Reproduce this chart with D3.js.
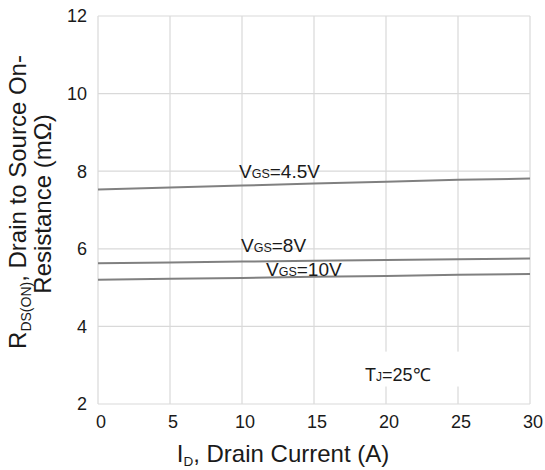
<!DOCTYPE html>
<html>
<head>
<meta charset="utf-8">
<script src="https://cdn.jsdelivr.net/npm/d3@7"></script>
<style>
  body { margin: 0; background: #fff; }
  svg text { font-family: "Liberation Sans", Arial, sans-serif; fill: #1a1a1a; }
</style>
</head>
<body>
<svg id="chart" width="545" height="470"></svg>
<script>
// drain current (A)
const current = [0, 5, 10, 15, 20, 25, 30];
// on-resistance (mOhm) for each gate voltage
const vgs45 = [7.53, 7.58, 7.63, 7.68, 7.73, 7.78, 7.81];
const vgs8 = [5.63, 5.65, 5.67, 5.69, 5.71, 5.73, 5.75];
const vgs10 = [5.2, 5.23, 5.25, 5.28, 5.3, 5.33, 5.35];
const xTicks = [0, 5, 10, 15, 20, 25, 30];
const yTicks = [2, 4, 6, 8, 10, 12];

const svg = d3.select("#chart");
const margin = { left: 98, right: 15, top: 16, bottom: 66 };
const W = 545, H = 470;

const x = d3.scaleLinear().domain([0, 30]).range([margin.left, W - margin.right]);
const y = d3.scaleLinear().domain([2, 12]).range([H - margin.bottom, margin.top]);

// grid
const grid = svg.append("g").attr("stroke", "#d9d9d9").attr("stroke-width", 1.2);
grid.selectAll(".gx").data(xTicks).join("line")
  .attr("x1", d => x(d)).attr("x2", d => x(d))
  .attr("y1", y(2)).attr("y2", y(12));
grid.selectAll(".gy").data(yTicks).join("line")
  .attr("y1", d => y(d)).attr("y2", d => y(d))
  .attr("x1", x(0)).attr("x2", x(30));

// white box behind the temperature note
svg.append("rect")
  .attr("x", x(17.3)).attr("y", y(3.35))
  .attr("width", x(26.2) - x(17.3)).attr("height", y(2.45) - y(3.35))
  .attr("fill", "#fff");

// tick labels
svg.append("g").selectAll("text").data(yTicks).join("text")
  .attr("x", 87).attr("y", d => y(d)).attr("dy", "0.35em")
  .attr("text-anchor", "end").attr("font-size", 18).text(d => d);
svg.append("g").selectAll("text").data(xTicks).join("text")
  .attr("x", d => x(d) + 3).attr("y", y(2) + 24)
  .attr("text-anchor", "middle").attr("font-size", 18).text(d => d);

// curves
const line = d3.line().x((d, i) => x(current[i])).y(d => y(d));
[vgs45, vgs8, vgs10].forEach(s => {
  svg.append("path").datum(s).attr("d", line)
    .attr("fill", "none").attr("stroke", "#808080").attr("stroke-width", 2);
});

// curve labels
function vLabel(px, py, rest) {
  const t = svg.append("text").attr("x", px).attr("y", py).attr("font-size", 19);
  t.append("tspan").text("V");
  t.append("tspan").attr("font-size", 12.5).text("GS");
  t.append("tspan").text(rest);
}
vLabel(239, 178, "=4.5V");
vLabel(241, 252, "=8V");
vLabel(266, 276, "=10V");

const tj = svg.append("text").attr("x", 365).attr("y", 381).attr("font-size", 18);
tj.append("tspan").text("T");
tj.append("tspan").attr("font-size", 12).text("J");
tj.append("tspan").text("=25℃");

// axis titles
const xt = svg.append("text").attr("x", 283).attr("y", 462)
  .attr("text-anchor", "middle").attr("font-size", 24);
xt.append("tspan").text("I");
xt.append("tspan").attr("font-size", 13.5).attr("dy", 4).text("D");
xt.append("tspan").attr("dy", -4).text(", Drain Current (A)");

const yt = svg.append("text").attr("transform", "translate(26,202) rotate(-90)")
  .attr("text-anchor", "middle").attr("font-size", 24);
yt.append("tspan").text("R");
yt.append("tspan").attr("font-size", 14).attr("dy", 5).text("DS(ON)");
yt.append("tspan").attr("dy", -5).text(", Drain to Source On-");
svg.append("text").attr("transform", "translate(51,204) rotate(-90)")
  .attr("text-anchor", "middle").attr("font-size", 24).text("Resistance (mΩ)");
</script>
</body>
</html>
